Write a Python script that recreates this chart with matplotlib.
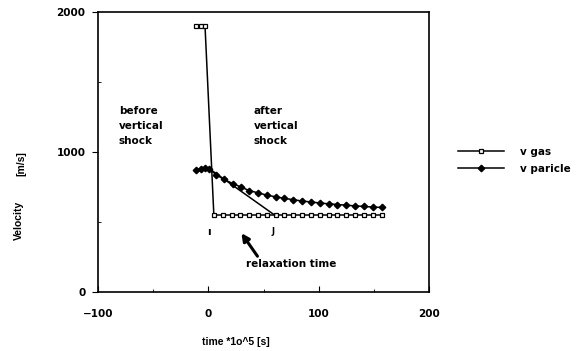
import matplotlib
matplotlib.use("Agg")
import matplotlib.pyplot as plt
from matplotlib.ticker import MultipleLocator

plt.rcParams['font.family'] = ['DejaVu Sans']
plt.rcParams['font.weight'] = 'bold'

# gas velocity (open squares)
gas_t = [-11, -7, -3, 5, 13, 21, 29, 37, 45, 53, 61, 69, 77, 85, 93,
         101, 109, 117, 125, 133, 141, 149, 157]
gas_v = [1900, 1900, 1900, 550, 550, 550, 550, 550, 550, 550, 550, 550, 550,
         550, 550, 550, 550, 550, 550, 550, 550, 550, 550]

# particle velocity (filled diamonds)
part_t = [-11, -7, -3, 1, 7, 14, 22, 30, 37, 45, 53, 61, 69, 77, 85, 93,
          101, 109, 117, 125, 133, 141, 149, 157]
part_v = [870, 880, 885, 880, 838, 805, 775, 748, 725, 708, 692, 680, 669,
          659, 650, 643, 636, 630, 625, 620, 615, 611, 607, 604]

tang_t = [1, 60]
tang_v = [880, 550]

fig = plt.figure(figsize=(5.77, 3.51), dpi=100)
ax = fig.add_axes([98 / 577, 1 - 292 / 351, 331 / 577, 280 / 351])

ax.plot(gas_t, gas_v, color="black", lw=1.1, marker="s", ms=3.5,
        mfc="white", mec="black", mew=0.9, label="v gas")
ax.plot(part_t, part_v, color="black", lw=1.1, marker="D", ms=3.3,
        mfc="black", mec="black", label="v paricle")
ax.plot(tang_t, tang_v, color="black", lw=1.1)

ax.set_xlim(-100, 200)
ax.set_ylim(0, 2000)
ax.xaxis.set_major_locator(MultipleLocator(100))
ax.xaxis.set_minor_locator(MultipleLocator(50))
ax.yaxis.set_major_locator(MultipleLocator(1000))
ax.yaxis.set_minor_locator(MultipleLocator(500))
ax.tick_params(axis="x", which="major", direction="in", length=4, labelsize=7.5, pad=12)
ax.tick_params(axis="x", which="minor", direction="in", length=2)
ax.tick_params(axis="y", which="major", direction="out", length=4, labelsize=7.5, pad=5)
ax.tick_params(axis="y", which="minor", direction="in", length=2)
for sp in ax.spines.values():
    sp.set_linewidth(1.2)

fs = 7.5
ax.text(-81, 1186, "before\nvertical\nshock", fontsize=fs, va="center", ha="left",
        linespacing=1.6)
ax.text(41, 1186, "after\nvertical\nshock", fontsize=fs, va="center", ha="left",
        linespacing=1.6)
ax.text(1, 430, "ı", fontsize=fs, ha="center", va="center")
ax.text(59, 430, "J", fontsize=fs - 1.5, ha="center", va="center")
ax.annotate("relaxation time", xy=(30, 420), xytext=(34, 200), fontsize=fs,
            ha="left", va="center",
            arrowprops=dict(arrowstyle="-|>", color="black", lw=2.2,
                            shrinkA=0, shrinkB=0, mutation_scale=11,
                            relpos=(0.15, 1.0)))

lab = dict(fontsize=7.5, family=["Liberation Sans", "DejaVu Sans"],
           transform=ax.transAxes, rotation=90, ha="center", va="center")
ax.text(-0.24, 0.257, "Velocity", **lab)
ax.text(-0.232, 0.457, "[m/s]", **lab)
ax.text(-6, -355, "time *1o^5 [s]", fontsize=7.5, ha="left", va="center",
        family=["Liberation Sans", "DejaVu Sans"])

ax.legend(loc="center left", bbox_to_anchor=(1.06, 0.47), frameon=False,
          fontsize=fs, handlelength=4.4, labelspacing=0.7, handletextpad=1.5)

fig.savefig("out.png", dpi=100)
